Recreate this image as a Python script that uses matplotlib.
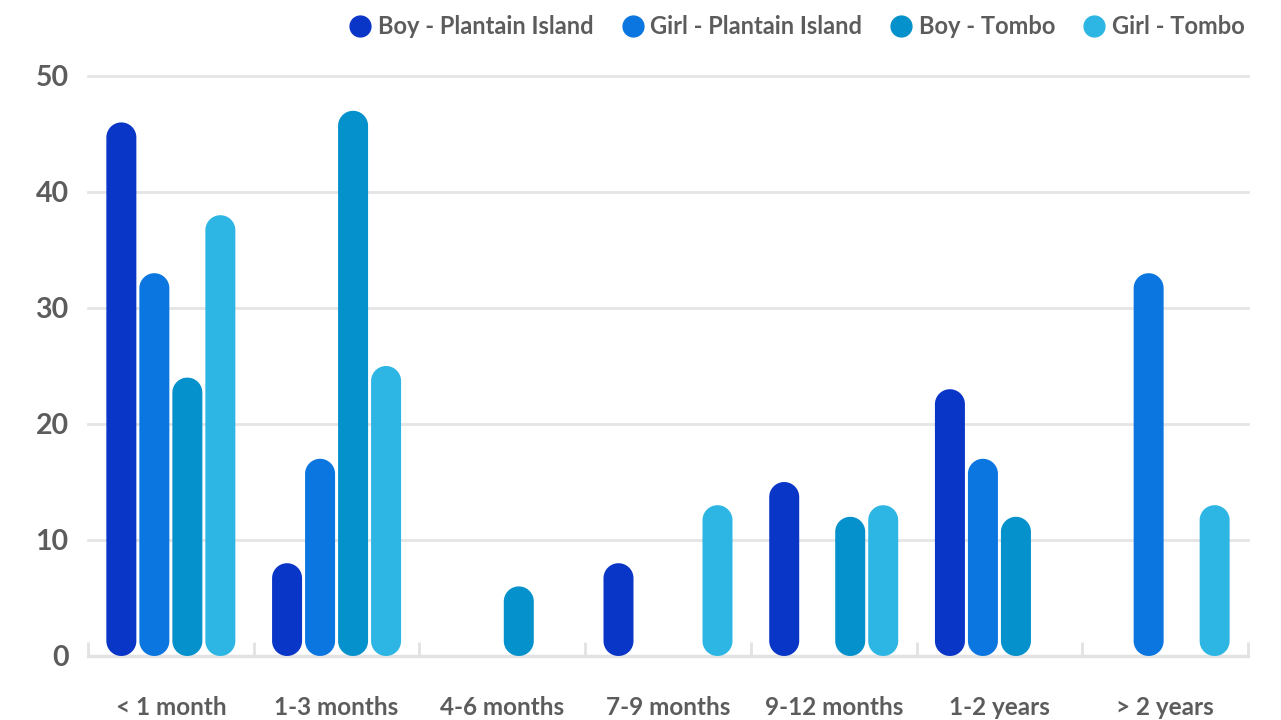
import matplotlib
matplotlib.use("Agg")
import matplotlib.pyplot as plt
import numpy as np
from matplotlib.patches import Polygon
from matplotlib.lines import Line2D

categories = ["< 1 month", "1-3 months", "4-6 months", "7-9 months", "9-12 months", "1-2 years", "> 2 years"]
series_names = ["Boy - Plantain Island", "Girl - Plantain Island", "Boy - Tombo", "Girl - Tombo"]
boy_pi = [46, 8, 0, 8, 15, 23, 0]
girl_pi = [33, 17, 0, 0, 0, 17, 33]
boy_tombo = [24, 47, 6, 0, 12, 12, 0]
girl_tombo = [38, 25, 0, 13, 13, 0, 13]
y_ticks = [0, 10, 20, 30, 40, 50]
colors = ["#0a36c8", "#0b76e0", "#0591cb", "#2db6e3"]

plt.rcParams['font.family'] = ['Lato', 'DejaVu Sans']

W, H, DPI = 12.81, 7.2, 100
fig = plt.figure(figsize=(W, H), dpi=DPI)
left, right = 88 / 1281, 1248 / 1281
bottom, top = (720 - 656) / 720, (720 - 76) / 720
ax = fig.add_axes([left, bottom, right - left, top - bottom])

n = len(categories)
ax.set_xlim(0, n)
ax.set_ylim(0, 50)

px_per_x = (right - left) * W * DPI / n
px_per_y = (top - bottom) * H * DPI / 50

bar_w = 30 / px_per_x
step = 33 / px_per_x
rx = bar_w / 2
ry = rx * px_per_x / px_per_y
theta = np.linspace(0, np.pi, 40)


def pill(xc, v):
    top_x = xc + rx * np.cos(theta)
    top_y = v - ry + ry * np.sin(theta)
    bot_x = xc - rx * np.cos(theta)
    bot_y = ry - ry * np.sin(theta)
    return np.column_stack([np.concatenate([top_x, bot_x]), np.concatenate([top_y, bot_y])])


all_series = [boy_pi, girl_pi, boy_tombo, girl_tombo]
x = np.arange(n) + 0.5
for i, (vals, c) in enumerate(zip(all_series, colors)):
    offs = (i - 1.5) * step
    for xi, v in zip(x, vals):
        if v <= 0:
            continue
        ax.add_patch(Polygon(pill(xi + offs, v), closed=True, facecolor=c,
                             edgecolor="none", zorder=3, clip_on=False))

for t in y_ticks[1:]:
    ax.axhline(t, color="#e5e5e5", lw=2, zorder=1, clip_on=False)

for s in ["top", "right", "left"]:
    ax.spines[s].set_visible(False)
ax.spines["bottom"].set_color("#e2e2e2")
ax.spines["bottom"].set_linewidth(2.5)
ax.spines["bottom"].set_zorder(2)

ax.set_yticks(y_ticks)
ax.set_yticklabels([str(t) for t in y_ticks], fontsize=20.5, color="#5c5c5c", fontweight="bold")
ax.tick_params(axis="y", length=0, pad=14)

ax.set_xticks(x)
ax.set_xticklabels(categories, fontsize=17.5, color="#5c5c5c", fontweight="bold")
ax.tick_params(axis="x", which="major", length=0, pad=29)
ax.set_xticks(np.arange(n + 1), minor=True)
ax.tick_params(axis="x", which="minor", direction="in", length=10, width=2, color="#e2e2e2")

handles = [Line2D([], [], marker="o", linestyle="none", markersize=15,
                  markerfacecolor=c, markeredgecolor=c) for c in colors]
leg = fig.legend(handles, series_names, loc="upper right", bbox_to_anchor=(1266 / 1281, 1.009),
                 ncol=4, frameon=False, fontsize=17, handletextpad=0.25, columnspacing=1.15,
                 handlelength=1.0)
for t in leg.get_texts():
    t.set_color("#5c5c5c")
    t.set_fontweight("bold")

fig.savefig("out.png", dpi=DPI)
